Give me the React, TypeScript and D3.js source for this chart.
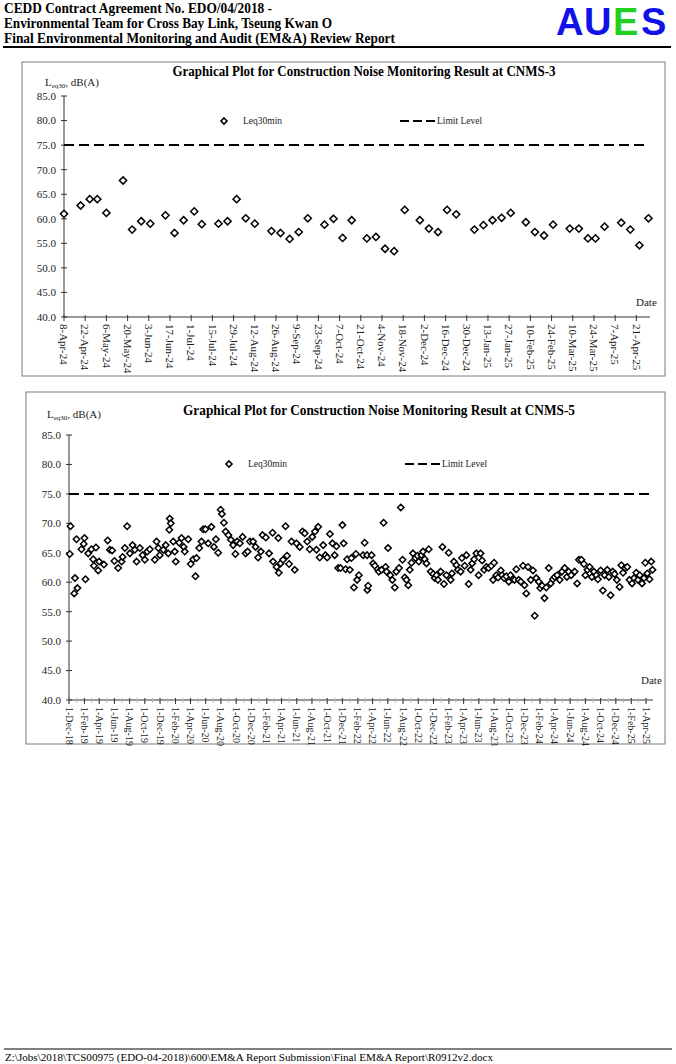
import React from 'react';
import * as d3 from 'd3';

// ---------- DATA ----------
const cnms3Dates = [
  '2024-04-08','2024-04-19','2024-04-25','2024-04-30','2024-05-06','2024-05-17','2024-05-23','2024-05-29','2024-06-04','2024-06-14',
  '2024-06-20','2024-06-26','2024-07-03','2024-07-08','2024-07-19','2024-07-25','2024-07-31','2024-08-06','2024-08-12','2024-08-23',
  '2024-08-29','2024-09-04','2024-09-10','2024-09-16','2024-09-27','2024-10-03','2024-10-09','2024-10-15','2024-10-25','2024-10-31',
  '2024-11-06','2024-11-12','2024-11-19','2024-11-29','2024-12-05','2024-12-11','2024-12-17','2024-12-23','2025-01-04','2025-01-10',
  '2025-01-16','2025-01-22','2025-01-28','2025-02-07','2025-02-13','2025-02-19','2025-02-25','2025-03-08','2025-03-14','2025-03-20',
  '2025-03-25','2025-03-31','2025-04-11','2025-04-17','2025-04-23','2025-04-29',
];
const cnms3Values = [
  61.0,62.7,64.0,64.0,61.2,67.8,57.8,59.5,59.0,60.7,
  57.1,59.7,61.5,58.9,59.0,59.5,64.0,60.1,59.0,57.5,
  57.1,55.9,57.3,60.1,58.8,60.0,56.1,59.7,56.0,56.3,
  53.9,53.4,61.8,59.7,58.0,57.3,61.8,60.9,57.8,58.7,
  59.7,60.2,61.2,59.3,57.3,56.6,58.8,58.0,58.0,56.0,
  56.0,58.4,59.2,57.8,54.6,60.1,
];
const cnms3Domain = ['2024-04-08', '2025-04-30'];

const cnms5Dates = [
  '2018-12-04','2018-12-07','2018-12-22','2018-12-25','2018-12-31','2019-01-04','2019-01-20','2019-01-29','2019-02-01','2019-02-05',
  '2019-02-16','2019-03-01','2019-03-08','2019-03-11','2019-03-19','2019-03-28','2019-04-01','2019-04-20','2019-05-05','2019-05-14',
  '2019-05-23','2019-06-01','2019-06-16','2019-06-30','2019-07-04','2019-07-13','2019-07-22','2019-08-02','2019-08-13','2019-08-22',
  '2019-08-29','2019-09-11','2019-09-22','2019-10-01','2019-10-11','2019-10-21','2019-11-10','2019-11-17','2019-11-24','2019-11-30',
  '2019-12-14','2019-12-24','2020-01-03','2020-01-07','2020-01-09','2020-01-13','2020-01-23','2020-01-29','2020-02-02','2020-02-16',
  '2020-02-25','2020-03-05','2020-03-09','2020-03-23','2020-04-02','2020-04-12','2020-04-21','2020-04-25','2020-05-06','2020-05-15',
  '2020-05-22','2020-05-31','2020-06-11','2020-06-24','2020-07-04','2020-07-12','2020-07-21','2020-07-31','2020-08-05','2020-08-13',
  '2020-08-20','2020-08-31','2020-09-10','2020-09-19','2020-09-28','2020-10-05','2020-10-16','2020-10-27','2020-11-08','2020-11-16',
  '2020-11-25','2020-12-08','2020-12-18','2020-12-28','2021-01-08','2021-01-15','2021-01-28','2021-02-10','2021-02-24','2021-02-26',
  '2021-03-12','2021-03-19','2021-03-21','2021-03-28','2021-04-07','2021-04-17','2021-04-23','2021-05-01','2021-05-11','2021-05-24',
  '2021-05-31','2021-06-13','2021-06-24','2021-07-03','2021-07-13','2021-07-23','2021-08-02','2021-08-13','2021-08-19','2021-08-26',
  '2021-09-01','2021-09-15','2021-09-24','2021-10-01','2021-10-12','2021-10-22','2021-10-31','2021-11-07','2021-11-14','2021-11-23',
  '2021-12-01','2021-12-06','2021-12-14','2021-12-20','2021-12-31','2022-01-06','2022-01-16','2022-01-24','2022-01-29','2022-02-05',
  '2022-02-22','2022-02-28','2022-03-10','2022-03-11','2022-03-14','2022-03-28','2022-04-03','2022-04-10','2022-04-21','2022-04-26',
  '2022-05-07','2022-05-15','2022-05-23','2022-05-27','2022-06-02','2022-06-11','2022-06-19','2022-06-29','2022-07-05','2022-07-16',
  '2022-07-23','2022-07-30','2022-08-08','2022-08-15','2022-08-22','2022-08-28','2022-09-04','2022-09-10','2022-09-20','2022-09-28',
  '2022-10-03','2022-10-14','2022-10-20','2022-10-27','2022-11-03','2022-11-12','2022-11-20','2022-11-30','2022-12-06','2022-12-13',
  '2022-12-19','2022-12-30','2023-01-06','2023-01-12','2023-01-22','2023-01-31','2023-02-08','2023-02-13','2023-02-21','2023-03-03',
  '2023-03-09','2023-03-20','2023-03-25','2023-04-05','2023-04-12','2023-04-21','2023-04-29','2023-05-05','2023-05-13','2023-05-22',
  '2023-05-31','2023-06-08','2023-06-14','2023-06-22','2023-07-01','2023-07-10','2023-07-21','2023-07-28','2023-08-01','2023-08-10',
  '2023-08-17','2023-08-28','2023-09-02','2023-09-10','2023-09-19','2023-09-29','2023-10-06','2023-10-16','2023-10-22','2023-10-29',
  '2023-11-08','2023-11-16','2023-11-25','2023-12-01','2023-12-08','2023-12-15','2023-12-26','2024-01-04','2024-01-11','2024-01-17',
  '2024-01-27','2024-02-02','2024-02-10','2024-02-19','2024-02-26','2024-03-07','2024-03-15','2024-03-24','2024-03-31','2024-04-10',
  '2024-04-20','2024-04-29','2024-05-10','2024-05-19','2024-05-26','2024-06-05','2024-06-19','2024-06-29','2024-07-06','2024-07-16',
  '2024-07-26','2024-08-01','2024-08-09','2024-08-18','2024-08-27','2024-09-04','2024-09-14','2024-09-20','2024-10-01','2024-10-10',
  '2024-10-17','2024-10-28','2024-11-03','2024-11-10','2024-11-19','2024-11-26','2024-12-05','2024-12-16','2024-12-23','2024-12-30',
  '2025-01-08','2025-01-16','2025-01-25','2025-02-04','2025-02-12','2025-02-21','2025-02-28','2025-03-07','2025-03-16','2025-03-24',
  '2025-03-29','2025-04-06','2025-04-15','2025-04-22','2025-04-27',
];
const cnms5Values = [
  64.8,69.5,58.1,60.7,67.3,59.0,65.6,66.5,67.5,60.5,
  64.9,65.6,63.9,62.8,65.9,62.0,63.5,63.0,67.1,65.5,
  65.4,63.6,62.4,63.5,64.3,65.8,69.5,64.9,66.3,65.5,
  63.5,65.8,64.6,63.8,65.2,65.6,63.8,66.9,65.8,64.6,
  65.5,66.3,64.9,68.9,70.8,70.0,66.9,65.2,63.5,66.7,
  67.5,66.0,65.2,67.3,63.1,63.9,61.0,64.1,65.8,66.9,
  69.0,69.0,66.6,69.4,66.0,67.3,65.0,72.3,71.6,70.1,
  68.6,68.0,67.2,66.3,64.8,66.9,66.6,67.7,64.9,65.2,
  66.9,66.9,66.0,64.2,65.2,68.0,67.6,64.9,68.4,63.5,
  62.6,67.5,61.6,63.2,63.8,69.5,64.5,63.1,66.9,62.1,
  66.6,66.0,68.6,68.3,66.9,65.6,67.7,68.6,65.5,69.4,
  64.2,66.3,64.6,64.2,68.2,66.6,64.6,66.1,62.4,62.4,
  69.7,66.6,62.2,63.9,62.1,64.1,59.1,64.8,60.4,61.2,
  64.6,66.7,64.6,58.7,59.4,64.6,63.2,62.8,62.2,61.8,
  62.1,70.1,62.6,61.8,65.8,61.2,60.4,59.1,61.8,62.4,
  72.7,63.8,60.8,60.4,59.5,62.1,63.3,64.9,64.1,64.5,
  63.5,64.6,65.2,63.9,63.2,65.6,61.8,61.4,60.7,61.2,
  60.4,61.8,66.0,59.7,61.2,65.0,60.4,61.5,63.5,62.9,
  62.1,61.8,64.1,62.8,64.6,59.7,62.1,63.2,63.9,64.9,
  61.2,64.9,63.7,62.1,62.6,62.4,62.8,60.4,63.3,61.2,
  60.8,62.0,61.2,60.7,61.0,60.1,61.2,60.5,60.4,62.2,
  60.4,60.1,62.8,59.5,58.1,62.6,60.4,62.0,54.3,60.7,
  60.1,59.0,59.4,57.3,59.1,62.4,59.8,60.5,60.9,61.2,
  60.4,61.8,62.4,60.9,61.8,61.2,61.8,59.8,63.8,63.8,
  63.1,61.2,62.1,62.6,60.9,61.8,61.2,60.5,62.0,58.6,
  61.2,62.1,60.9,57.8,61.8,61.4,60.4,59.2,62.9,61.6,
  62.4,62.6,60.4,59.8,60.7,61.6,60.4,61.2,59.8,60.7,
  63.3,61.5,60.5,63.5,62.1,
];
const cnms5Domain = ['2018-12-01', '2025-04-29'];

const yTickValues = [40, 45, 50, 55, 60, 65, 70, 75, 80, 85];
const limitLevel = 75;
const seriesName = 'Leq30min';
const limitName = 'Limit Level';

const headerLines = [
  'CEDD Contract Agreement No. EDO/04/2018 -',
  'Environmental Team for Cross Bay Link, Tseung Kwan O',
  'Final Environmental Monitoring and Audit (EM&A) Review Report',
];
const logoLetters = ['A', 'U', 'E', 'S'];
const logoColors = ['#1010e8', '#1010e8', '#22d022', '#1010e8'];
const footerText = 'Z:\\Jobs\\2018\\TCS00975 (EDO-04-2018)\\600\\EM&A Report Submission\\Final EM&A Report\\R0912v2.docx';

// ---------- HELPERS ----------
const parse = d3.utcParse('%Y-%m-%d');
const fmt = d3.utcFormat('%-d-%b-%y');
const SERIF = '"Liberation Serif", "Times New Roman", serif';
const SANS = '"Liberation Sans", Arial, sans-serif';

function diamond(r: number) {
  return `M0,${-r}L${r},0L0,${r}L${-r},0Z`;
}

type ChartCfg = {
  box: { x: number; y: number; w: number; h: number };
  left: number; right: number; top: number; bottom: number;
  title: string; titleX: number; titleY: number; titleW: number;
  ylabX: number; ylabY: number;
  legY: number; legMarkX: number; legDashX1: number;
  dateX: number; dateY: number;
  limitX2: number;
  dates: string[]; values: number[]; domain: string[];
  mode: 'biweekly' | 'bimonthly';
  r: number; labelSize: number;
};

function NoiseChart(c: ChartCfg) {
  const x = d3.scaleUtc().domain(c.domain.map((d) => parse(d) as Date)).range([c.left, c.right]);
  const y = d3.scaleLinear().domain([40, 85]).range([c.bottom, c.top]);
  const start = parse(c.domain[0]) as Date;
  const end = parse(c.domain[1]) as Date;
  const majors = c.mode === 'biweekly'
    ? d3.utcDay.range(start, end, 14)
    : d3.utcMonth.range(start, end, 2);
  const minors = c.mode === 'bimonthly' ? d3.utcMonth.range(start, end) : [];
  const pts = c.dates.map((d, i) => ({ d: parse(d) as Date, v: c.values[i] }));
  return (
    <g>
      <rect x={c.box.x} y={c.box.y} width={c.box.w} height={c.box.h} fill="#fff" stroke="#7a7a7a" strokeWidth={1} />
      <text x={c.titleX} y={c.titleY} textAnchor="middle" fontFamily={SERIF} fontWeight="bold" fontSize={14}
        textLength={c.titleW} lengthAdjust="spacingAndGlyphs">{c.title}</text>
      <text x={c.ylabX} y={c.ylabY} fontFamily={SERIF} fontSize={11} fill="#222">
        L<tspan fontSize={7} dy={2}>eq30</tspan><tspan dy={-2}>, dB(A)</tspan>
      </text>
      {/* y axis */}
      <line x1={c.left} x2={c.left} y1={y(85)} y2={y(40)} stroke="#333" strokeWidth={1} />
      {yTickValues.map((t) => (
        <g key={t}>
          <line x1={c.left - 3} x2={c.left + 3} y1={y(t)} y2={y(t)} stroke="#333" />
          <text x={c.left - 8} y={y(t)} dy="0.35em" textAnchor="end" fontFamily={SERIF} fontSize={11} fill="#222">{t.toFixed(1)}</text>
        </g>
      ))}
      {/* x axis */}
      <line x1={c.left} x2={c.right} y1={c.bottom} y2={c.bottom} stroke="#333" strokeWidth={1} />
      {minors.map((t, i) => (
        <line key={'m' + i} x1={x(t)} x2={x(t)} y1={c.bottom - 2} y2={c.bottom + 3} stroke="#bbb" />
      ))}
      {majors.map((t, i) => (
        <g key={'t' + i}>
          <line x1={x(t)} x2={x(t)} y1={c.bottom - 2} y2={c.bottom + 4} stroke="#333" />
          <text transform={`translate(${x(t)},${c.bottom + 7}) rotate(90)`} dy="0.35em" fontFamily={SERIF}
            fontSize={c.labelSize} fill="#222">{fmt(t)}</text>
        </g>
      ))}
      <text x={c.dateX} y={c.dateY} fontFamily={SERIF} fontSize={11} fill="#222">Date</text>
      {/* limit line */}
      <line x1={c.left} x2={c.limitX2} y1={y(limitLevel)} y2={y(limitLevel)} stroke="#000" strokeWidth={2} strokeDasharray="10,5" />
      {/* legend */}
      <path d={diamond(3)} transform={`translate(${c.legMarkX},${c.legY})`} fill="#fff" stroke="#000" strokeWidth={1.6} />
      <text x={c.legMarkX + 19} y={c.legY} dy="0.35em" fontFamily={SERIF} fontSize={9.5} fill="#222">{seriesName}</text>
      <line x1={c.legDashX1} x2={c.legDashX1 + 35} y1={c.legY} y2={c.legY} stroke="#000" strokeWidth={2} strokeDasharray="9,4" />
      <text x={c.legDashX1 + 37} y={c.legY} dy="0.35em" fontFamily={SERIF} fontSize={9.5} fill="#222">{limitName}</text>
      {/* points */}
      {pts.map((p, i) => (
        <path key={i} d={diamond(c.r)} transform={`translate(${x(p.d)},${y(p.v)})`} fill="#fff" stroke="#000" strokeWidth={1.5} />
      ))}
    </g>
  );
}

export default function App() {
  const logoX = [556, 584, 613, 641];
  return (
    <svg width={676} height={1064} style={{ position: 'absolute', left: 0, top: 0, background: '#fff' }}>
      <rect x={0} y={0} width={676} height={1064} fill="#fff" />
      {/* header */}
      {headerLines.map((t, i) => (
        <text key={i} x={4} y={12.5 + i * 15} fontFamily={SERIF} fontWeight="bold" fontSize={14}
          textLength={[268, 328, 391][i]} lengthAdjust="spacingAndGlyphs">{t}</text>
      ))}
      <line x1={3} x2={671} y1={47} y2={47} stroke="#000" strokeWidth={2} />
      {logoLetters.map((l, i) => (
        <text key={l} x={logoX[i]} y={35} fontFamily={SANS} fontWeight="bold" fontSize={38} fill={logoColors[i]}>{l}</text>
      ))}

      <NoiseChart
        box={{ x: 22, y: 62, w: 643, h: 314 }}
        left={64} right={650} top={96} bottom={317}
        title="Graphical Plot for Construction Noise Monitoring Result at CNMS-3"
        titleX={364} titleY={76} titleW={383}
        ylabX={45} ylabY={86}
        legY={121} legMarkX={224} legDashX1={400}
        dateX={636} dateY={306}
        limitX2={647}
        dates={cnms3Dates} values={cnms3Values} domain={cnms3Domain}
        mode="biweekly" r={3.6} labelSize={11}
      />
      <NoiseChart
        box={{ x: 26, y: 392, w: 639, h: 352 }}
        left={69} right={653} top={435} bottom={700}
        title="Graphical Plot for Construction Noise Monitoring Result at CNMS-5"
        titleX={379} titleY={415} titleW={392}
        ylabX={47} ylabY={418}
        legY={464} legMarkX={229} legDashX1={405}
        dateX={641} dateY={684}
        limitX2={652}
        dates={cnms5Dates} values={cnms5Values} domain={cnms5Domain}
        mode="bimonthly" r={3.2} labelSize={10}
      />

      {/* footer */}
      <line x1={4} x2={672} y1={1049} y2={1049} stroke="#000" strokeWidth={1} />
      <text x={5} y={1061} fontFamily={SERIF} fontSize={10} textLength={488} lengthAdjust="spacingAndGlyphs">{footerText}</text>
    </svg>
  );
}
